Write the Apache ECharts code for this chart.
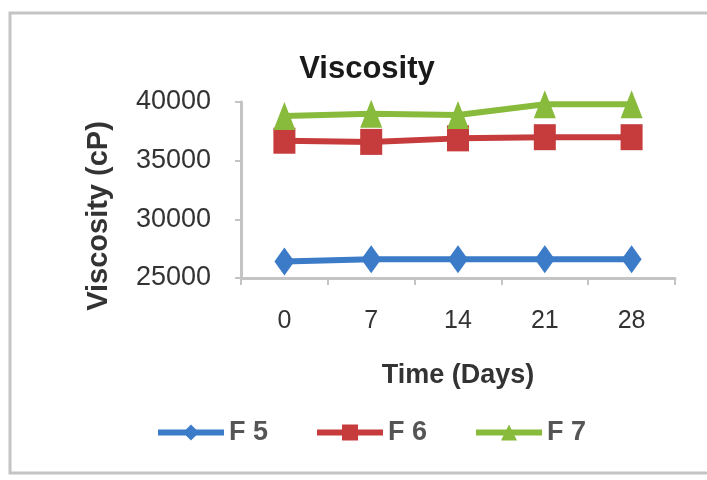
<!DOCTYPE html>
<html>
<head>
<meta charset="utf-8">
<script src="https://cdn.jsdelivr.net/npm/echarts@6/dist/echarts.min.js"></script>
<style>
  html, body { margin: 0; padding: 0; background: #fff; }
  #chart { width: 707px; height: 480px; }
</style>
</head>
<body>
<div id="chart"></div>
<script>
// Storage time points (days)
const days = ['0', '7', '14', '21', '28'];
// Viscosity readings (cP) per formulation
const f5 = [26400, 26600, 26600, 26600, 26600];
const f6 = [36700, 36600, 36900, 37000, 37000];
const f7 = [38800, 39000, 38900, 39800, 39800];
// Value axis ticks
const yMin = 25000, yMax = 40000, yStep = 5000;

const font = 'Liberation Sans, Arial, sans-serif';
const chart = echarts.init(document.getElementById('chart'));

function lineSeries(name, data, color, symbol, size) {
  return {
    name: name,
    type: 'line',
    data: data,
    symbol: symbol,
    symbolSize: size,
    itemStyle: { color: color },
    lineStyle: { color: color, width: 6 },
    emphasis: { disabled: true }
  };
}

chart.setOption({
  animation: false,
  graphic: [{
    type: 'rect',
    shape: { x: 10, y: 13, width: 720, height: 460 },
    style: { fill: 'none', stroke: '#c4c4c4', lineWidth: 3 }
  }],
  title: {
    text: 'Viscosity',
    left: 362,
    top: 49,
    textAlign: 'center',
    textStyle: { fontFamily: font, fontSize: 31, fontWeight: 'bold', color: '#1a1a1a' }
  },
  grid: { left: 241, right: 32, top: 102, bottom: 202 },
  xAxis: {
    type: 'category',
    data: days,
    boundaryGap: true,
    name: 'Time (Days)',
    nameLocation: 'middle',
    nameGap: 84,
    nameTextStyle: { fontFamily: font, fontSize: 27, fontWeight: 'bold', color: '#333' },
    axisLine: { lineStyle: { color: '#c4c4c4', width: 3 } },
    axisTick: { show: true, alignWithLabel: false, length: 7, lineStyle: { color: '#c4c4c4', width: 2 } },
    axisLabel: { fontFamily: font, fontSize: 25, color: '#333', margin: 31 },
    splitLine: { show: false }
  },
  yAxis: {
    type: 'value',
    min: yMin,
    max: yMax,
    interval: yStep,
    name: 'Viscosity (cP)',
    nameLocation: 'middle',
    nameGap: 128,
    nameRotate: 90,
    nameTextStyle: {
      fontFamily: font, fontSize: 29, fontWeight: 'bold', color: '#333',
      padding: [0, 52, 0, 0]
    },
    axisLine: { show: true, lineStyle: { color: '#c4c4c4', width: 3 } },
    axisTick: { show: true, length: 6, lineStyle: { color: '#c4c4c4', width: 2 } },
    axisLabel: {
      fontFamily: font, fontSize: 27, color: '#333', margin: 30,
      formatter: function (v) { return String(v); }
    },
    splitLine: { show: false }
  },
  legend: {
    left: 150,
    top: 414,
    itemWidth: 66,
    itemHeight: 20,
    itemGap: 46,
    lineStyle: { width: 6 },
    textStyle: { fontFamily: font, fontSize: 27, fontWeight: 'bold', color: '#555' },
    data: ['F 5', 'F 6', 'F 7']
  },
  series: [
    lineSeries('F 5', f5, '#3b7bc8', 'diamond', [20, 28]),
    lineSeries('F 6', f6, '#c63b3c', 'rect', [22, 26]),
    lineSeries('F 7', f7, '#88bb3c', 'triangle', [22, 28])
  ]
});
</script>
</body>
</html>
